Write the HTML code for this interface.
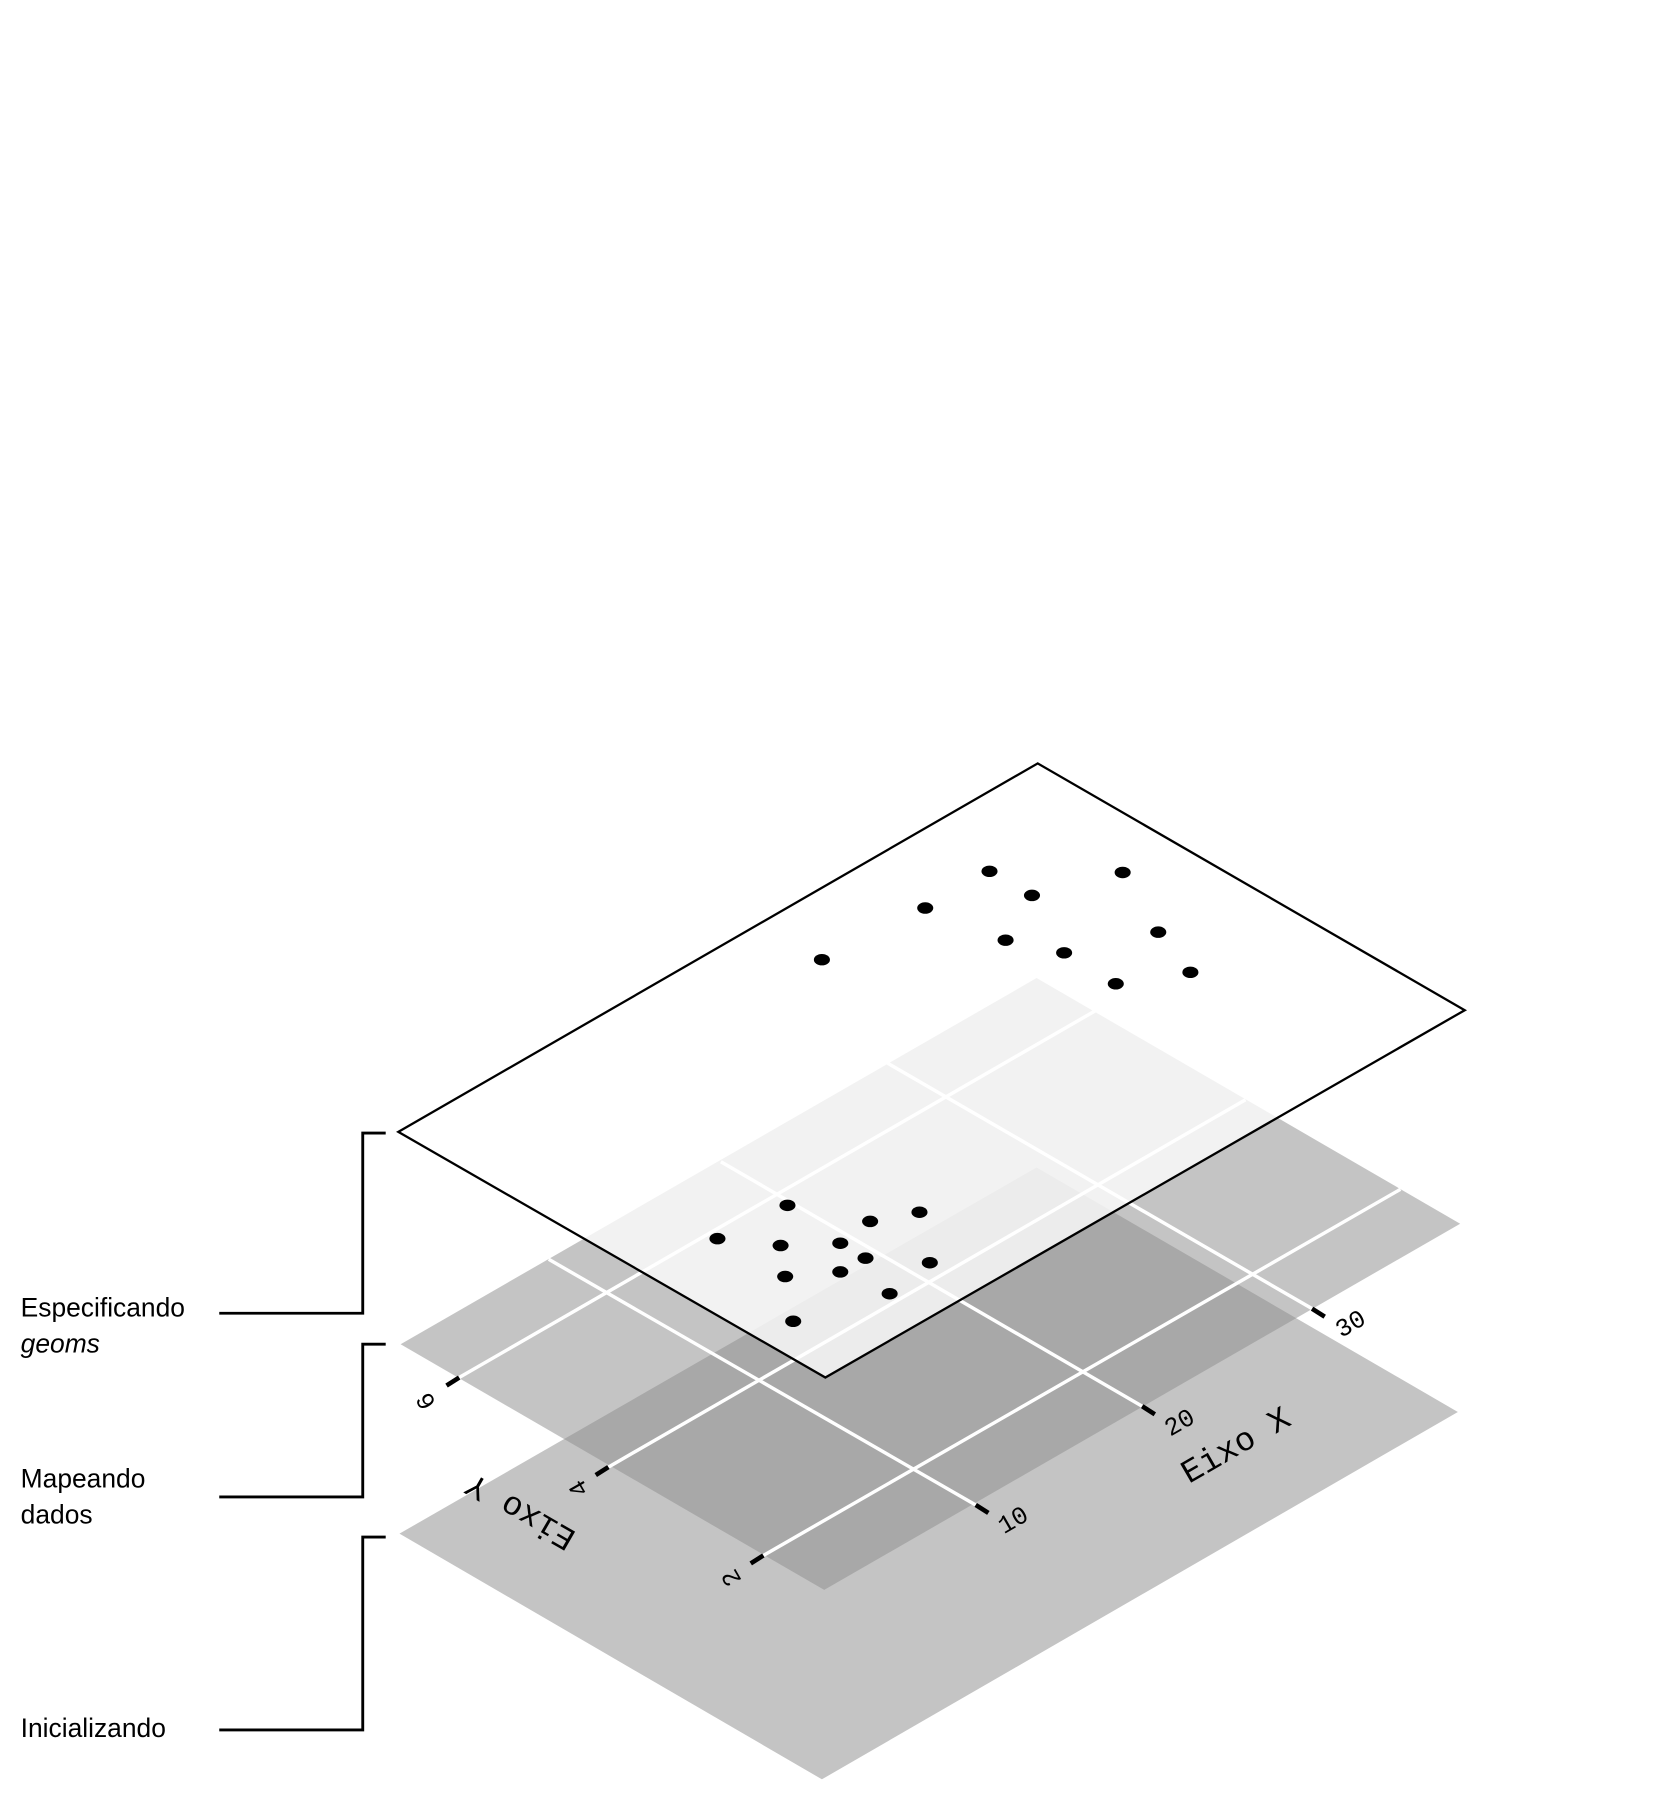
<!DOCTYPE html>
<html><head><meta charset="utf-8"><style>
html,body{margin:0;padding:0;background:#fff;}
svg{display:block;}
.lab{font-family:"Liberation Sans",sans-serif;font-size:23px;fill:#000;}
.mono{font-family:"Liberation Mono",monospace;fill:#000;}
</style></head><body>
<svg width="1653" height="1800" viewBox="0 0 1440 1568" xmlns="http://www.w3.org/2000/svg">
<rect width="1440" height="1568" fill="#fff"/>
<polygon points="348,1336 903,1017 1270,1230 716,1550" fill="#c4c4c4"/>
<polygon points="349,1171 903,852 1272,1066 718,1385" fill="#8f8f8f" fill-opacity="0.525"/>
<g stroke="#fff" stroke-width="3">
<line x1="400" y1="1200" x2="955" y2="880"/>
<line x1="530" y1="1278" x2="1085" y2="958"/>
<line x1="665" y1="1355" x2="1220" y2="1036"/>
<line x1="478" y1="1097" x2="850" y2="1311"/>
<line x1="628" y1="1012" x2="995" y2="1225"/>
<line x1="773" y1="926" x2="1143" y2="1140"/>
</g>
<g stroke="#000" stroke-width="4">
<line x1="400" y1="1200" x2="389" y2="1207"/>
<line x1="530" y1="1278" x2="519" y2="1285"/>
<line x1="665" y1="1355" x2="654" y2="1362"/>
<line x1="850" y1="1311" x2="861" y2="1318"/>
<line x1="995" y1="1225" x2="1006" y2="1232"/>
<line x1="1143" y1="1140" x2="1154" y2="1147"/>
</g>
<g class="mono" font-size="22">
<text transform="translate(372,1220) rotate(240)" text-anchor="middle" dominant-baseline="middle">6</text>
<text transform="translate(505,1296) rotate(240)" text-anchor="middle" dominant-baseline="middle">4</text>
<text transform="translate(638,1374) rotate(240)" text-anchor="middle" dominant-baseline="middle">2</text>
<text transform="translate(883,1325) rotate(-30)" text-anchor="middle" dominant-baseline="middle">10</text>
<text transform="translate(1028,1240) rotate(-30)" text-anchor="middle" dominant-baseline="middle">20</text>
<text transform="translate(1177,1154) rotate(-30)" text-anchor="middle" dominant-baseline="middle">30</text>
</g>
<g class="mono" font-size="29">
<text transform="translate(1077,1260) rotate(-30)" text-anchor="middle" dominant-baseline="middle">Eixo X</text>
<text transform="translate(454,1316) rotate(210)" text-anchor="middle" dominant-baseline="middle">Eixo Y</text>
</g>
<polygon points="347,986 904,665 1276,880 719,1200" fill="#fff" fill-opacity="0.78" stroke="#000" stroke-width="2"/>
<g fill="#000">
<ellipse cx="862" cy="759" rx="7" ry="5"/><ellipse cx="978" cy="760" rx="7" ry="5"/>
<ellipse cx="899" cy="780" rx="7" ry="5"/><ellipse cx="806" cy="791" rx="7" ry="5"/>
<ellipse cx="1009" cy="812" rx="7" ry="5"/><ellipse cx="876" cy="819" rx="7" ry="5"/>
<ellipse cx="927" cy="830" rx="7" ry="5"/><ellipse cx="716" cy="836" rx="7" ry="5"/>
<ellipse cx="972" cy="857" rx="7" ry="5"/><ellipse cx="1037" cy="847" rx="7" ry="5"/>
<ellipse cx="686" cy="1050" rx="7" ry="5"/><ellipse cx="758" cy="1064" rx="7" ry="5"/>
<ellipse cx="801" cy="1056" rx="7" ry="5"/><ellipse cx="625" cy="1079" rx="7" ry="5"/>
<ellipse cx="680" cy="1085" rx="7" ry="5"/><ellipse cx="732" cy="1083" rx="7" ry="5"/>
<ellipse cx="754" cy="1096" rx="7" ry="5"/><ellipse cx="810" cy="1100" rx="7" ry="5"/>
<ellipse cx="684" cy="1112" rx="7" ry="5"/><ellipse cx="732" cy="1108" rx="7" ry="5"/>
<ellipse cx="775" cy="1127" rx="7" ry="5"/><ellipse cx="691" cy="1151" rx="7" ry="5"/>
</g>
<g fill="none" stroke="#000" stroke-width="2.5">
<polyline points="191,1144 316,1144 316,987 336,987"/>
<polyline points="191,1304 316,1304 316,1171 336,1171"/>
<polyline points="191,1507 316,1507 316,1339 336,1339"/>
</g>
<text class="lab" x="18" y="1147">Especificando</text>
<text class="lab" x="18" y="1178" font-style="italic">geoms</text>
<text class="lab" x="18" y="1296">Mapeando</text>
<text class="lab" x="18" y="1327">dados</text>
<text class="lab" x="18" y="1513">Inicializando</text>
</svg>
</body></html>
